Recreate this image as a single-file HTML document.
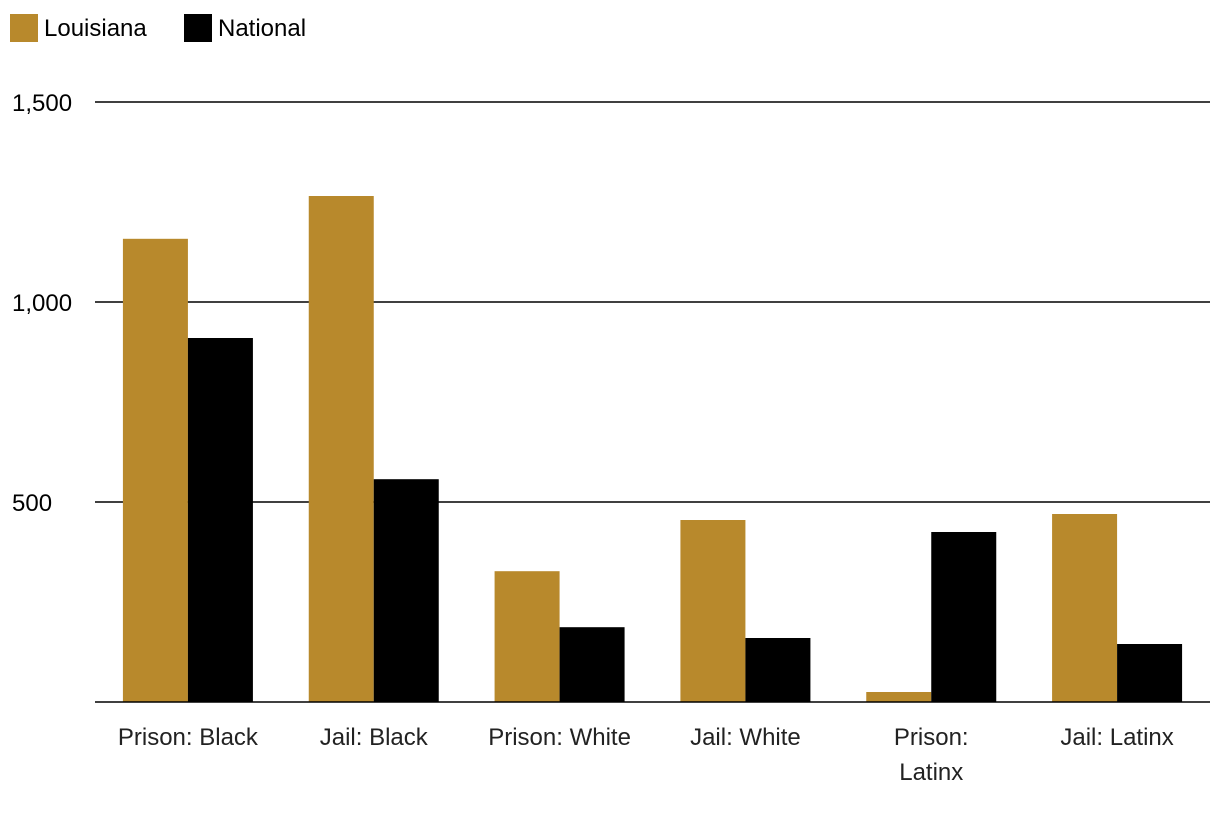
<!DOCTYPE html>
<html><head><meta charset="utf-8"><style>
body{margin:0;background:#fff;width:1220px;height:818px;overflow:hidden;font-family:"Liberation Sans",sans-serif;}
</style></head><body>
<svg width="1220" height="818" id="chart" font-family="Liberation Sans, sans-serif">
<g>
<rect x="10" y="14" width="28" height="28" fill="#b8892c"/>
<text x="44" y="36" font-size="24" fill="#000">Louisiana</text>
<rect x="184" y="14" width="28" height="28" fill="#000"/>
<text x="218" y="36" font-size="24" fill="#000">National</text>
</g>
</svg>
<script>
const categories=[["Prison: Black"],["Jail: Black"],["Prison: White"],["Jail: White"],["Prison:","Latinx"],["Jail: Latinx"]];
const louisiana=[1158,1265,327,455,25,470];
const national=[910,557,187,160,425,145];
const ticks=[500,1000,1500];
const tickLabels=["500","1,000","1,500"];
const NS="http://www.w3.org/2000/svg";
const svg=document.getElementById('chart');
const x0=95,x1=1210,y0=702,yMax=1500,yTop=102;
const y=v=>y0-(v/yMax)*(y0-yTop);
const band=(x1-x0)/categories.length;
function mk(t,a){const e=document.createElementNS(NS,t);for(const k in a)e.setAttribute(k,a[k]);svg.appendChild(e);return e;}
ticks.forEach((t,i)=>{
 const l=mk('line',{x1:x0,x2:x1,y1:y(t),y2:y(t),stroke:'#000','stroke-width':1.5});
 
 
 const tx=mk('text',{x:12,y:y(t)+9,'font-size':24,fill:'#000'});
 tx.textContent=tickLabels[i];
 
 
});
categories.forEach((c,i)=>{
 const cx=x0+band*(i+0.5);
 const a=mk('rect',{x:cx-65,y:y(louisiana[i]),width:65,height:y0-y(louisiana[i]),fill:'#b8892c'});
 
 
 const b=mk('rect',{x:cx,y:y(national[i]),width:65,height:y0-y(national[i]),fill:'#000'});
 
 
 c.forEach((line,j)=>{
  const t=mk('text',{x:cx,y:745+j*35,'font-size':24,fill:'#222','text-anchor':'middle'});
  t.textContent=line;
  
  
 });
});
const base=mk('line',{x1:x0,x2:x1,y1:y0,y2:y0,stroke:'#000','stroke-width':1.5});


</script>
</body></html>
